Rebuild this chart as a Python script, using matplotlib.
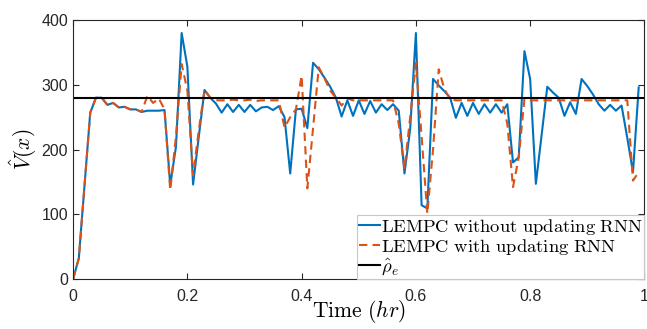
import numpy as np
import matplotlib
matplotlib.use('Agg')
import matplotlib.pyplot as plt

plt.rcParams['mathtext.fontset'] = 'cm'
plt.rcParams['font.family'] = ['Liberation Sans', 'DejaVu Sans']

# tiempo (hr), paso de 0.01
t = np.arange(100) / 100

# LEMPC sin actualizar la RNN
v_sin = [0, 32, 145, 257, 280, 280, 269, 272, 265, 266,
         262, 262, 258, 260, 260, 260, 261, 145, 204, 380,
         328, 146, 220, 292, 280, 271, 257, 270, 258, 269,
         258, 269, 259, 265, 266, 261, 267, 250, 163, 262,
         263, 233, 334, 324, 311, 297, 280, 251, 276, 252,
         276, 255, 275, 257, 270, 261, 270, 260, 163, 232,
         380, 114, 109, 309, 299, 290, 280, 249, 272, 252,
         272, 255, 270, 257, 270, 257, 270, 180, 188, 352,
         309, 147, 222, 297, 288, 280, 252, 273, 255, 309,
         298, 285, 270, 260, 269, 260, 268, 218, 165, 296]

# LEMPC actualizando la RNN
v_con = [0, 32, 145, 257, 280, 280, 269, 272, 265, 266,
         262, 262, 258, 283, 272, 279, 262, 137, 220, 332,
         291, 160, 230, 292, 280, 276, 276, 276, 277, 276,
         276, 277, 275, 276, 276, 276, 276, 234, 250, 262,
         314, 140, 233, 327, 310, 291, 280, 268, 279, 276,
         276, 276, 276, 276, 276, 276, 276, 240, 170, 250,
         334, 220, 101, 200, 324, 293, 278, 276, 276, 276,
         276, 276, 276, 276, 276, 276, 240, 142, 188, 278,
         276, 276, 276, 276, 276, 276, 276, 276, 276, 276,
         276, 276, 276, 276, 276, 276, 276, 276, 152, 165]

rho_e = 280

fig = plt.figure(figsize=(6.47, 3.29), dpi=100)
ax = fig.add_axes([0.113, 0.152, 0.883, 0.787])

ax.plot(t, v_sin, color='#0072BD', lw=1.5, label=r'$\mathrm{LEMPC\ without\ updating\ RNN}$')
ax.plot(t, v_con, color='#D95319', lw=1.5, ls='--', dashes=(4, 2.5),
        label=r'$\mathrm{LEMPC\ with\ updating\ RNN}$')
ax.axhline(rho_e, color='black', lw=1.5, label=r'$\hat{\rho}_e$')

ax.set_xlim(0, 1)
ax.set_ylim(0, 400)
ax.set_xticks([0, 0.2, 0.4, 0.6, 0.8, 1])
ax.set_xticklabels(['0', '0.2', '0.4', '0.6', '0.8', '1'])
ax.set_yticks([0, 100, 200, 300, 400])
ax.tick_params(direction='in', length=4, width=0.8, top=True, right=True,
               labelsize=11.5, colors='#262626')
ax.tick_params(axis='x', pad=7)
for s in ax.spines.values():
    s.set_color('#262626')
    s.set_linewidth(0.8)

ax.set_xlabel(r'$\mathrm{Time}\ (hr)$', fontsize=15.5, labelpad=-4)
ax.set_ylabel(r'$\hat{V}(x)$', fontsize=15.5, labelpad=2)

leg = ax.legend(loc='lower right', fontsize=13.4, borderaxespad=0, handlelength=1.1,
                handletextpad=0.05, labelspacing=0.0, borderpad=0.1, fancybox=False,
                framealpha=1)
leg.get_frame().set_edgecolor('#c8c8c8')
leg.get_frame().set_linewidth(0.8)

fig.savefig('out.png', dpi=100)
